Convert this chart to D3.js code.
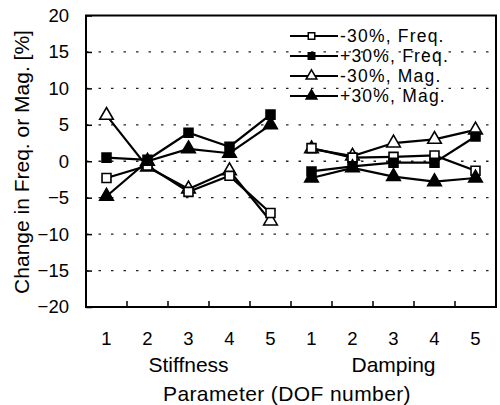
<!DOCTYPE html>
<html>
<head>
<meta charset="utf-8">
<script src="https://cdn.jsdelivr.net/npm/d3@7/dist/d3.min.js"></script>
<style>
  html, body { margin: 0; padding: 0; background: #fff; }
  svg { display: block; font-family: "Liberation Sans", Arial, sans-serif; }
</style>
</head>
<body>
<svg id="chart" width="500" height="405"></svg>
<script>
// Parameter groups and DOF numbers along the x axis
const groups = ["Stiffness", "Damping"];
const dofs = [1, 2, 3, 4, 5];

// Percentage change for each series, per parameter group (DOF 1..5)
const freqMinusStiff = [-2.3, -0.6, -4.2, -2.0, -7.1];
const freqMinusDamp  = [1.8, 0.5, 0.6, 0.8, -1.3];
const freqPlusStiff  = [0.5, 0.2, 3.9, 2.0, 6.4];
const freqPlusDamp   = [-1.4, -0.7, -0.2, -0.2, 3.4];
const magMinusStiff  = [6.3, -0.8, -3.8, -1.3, -8.2];
const magMinusDamp   = [1.7, 0.7, 2.5, 3.0, 4.3];
const magPlusStiff   = [-4.8, 0.0, 1.7, 1.1, 5.0];
const magPlusDamp    = [-2.3, -0.9, -2.1, -2.8, -2.3];

const seriesNames = ["-30%, Freq.", "+30%, Freq.", "-30%, Mag.", "+30%, Mag."];
const yTicks = [20, 15, 10, 5, 0, -5, -10, -15, -20];
const gridValues = [15, 10, 5, 0, -5, -10, -15];

const series = [
  { name: seriesNames[0], shape: d3.symbolSquare,   filled: false, parts: [freqMinusStiff, freqMinusDamp] },
  { name: seriesNames[1], shape: d3.symbolSquare,   filled: true,  parts: [freqPlusStiff, freqPlusDamp] },
  { name: seriesNames[2], shape: d3.symbolTriangle, filled: false, parts: [magMinusStiff, magMinusDamp] },
  { name: seriesNames[3], shape: d3.symbolTriangle, filled: true,  parts: [magPlusStiff, magPlusDamp] }
];

const svg = d3.select("#chart");
const margin = { left: 86, right: 4, top: 15.5, bottom: 98 };
const W = 500, H = 405;
const x0 = margin.left, x1 = W - margin.right;
const y0 = margin.top, y1 = H - margin.bottom;

const keys = [];
groups.forEach((g, gi) => dofs.forEach(d => keys.push(gi + "-" + d)));

const x = d3.scaleBand().domain(keys).range([x0, x1]).paddingInner(0).paddingOuter(0);
const y = d3.scaleLinear().domain([-20, 20]).range([y1, y0]);

// dotted horizontal grid
svg.append("g").selectAll("line").data(gridValues).join("line")
  .attr("x1", x0).attr("x2", x1)
  .attr("y1", d => y(d)).attr("y2", d => y(d))
  .attr("stroke", "#222").attr("stroke-width", 1.3)
  .attr("stroke-dasharray", "2.5,10");

// y axis with inward ticks
const yAxis = d3.axisLeft(y).tickValues(yTicks).tickSizeInner(-6).tickSizeOuter(0).tickPadding(17);
const gy = svg.append("g").attr("transform", `translate(${x0},0)`).call(yAxis);
gy.select(".domain").remove();
gy.selectAll(".tick line").attr("stroke", "#000").attr("stroke-width", 1.5);
gy.selectAll(".tick text").attr("font-size", 18.5).attr("fill", "#000")
  .attr("font-family", "'Liberation Sans', Arial, sans-serif");

// x axis labels at band centres
const xAxis = d3.axisBottom(x).tickSize(0).tickPadding(25).tickFormat(k => k.split("-")[1]);
const gx = svg.append("g").attr("transform", `translate(0,${y1})`).call(xAxis);
gx.select(".domain").remove();
gx.selectAll(".tick text").attr("font-size", 18.5).attr("fill", "#000")
  .attr("font-family", "'Liberation Sans', Arial, sans-serif");

// inward ticks at band boundaries
svg.append("g").selectAll("line").data(keys.slice(1)).join("line")
  .attr("x1", k => x(k)).attr("x2", k => x(k))
  .attr("y1", y1).attr("y2", y1 - 6)
  .attr("stroke", "#000").attr("stroke-width", 1.5);

// plot frame
svg.append("rect").attr("x", x0).attr("y", y0)
  .attr("width", x1 - x0).attr("height", y1 - y0)
  .attr("fill", "none").attr("stroke", "#000").attr("stroke-width", 2);

// group labels
groups.forEach((g, gi) => {
  const first = x(gi + "-" + dofs[0]);
  const last = x(gi + "-" + dofs[dofs.length - 1]) + x.bandwidth();
  svg.append("text").attr("x", (first + last) / 2).attr("y", 372)
    .attr("text-anchor", "middle").attr("font-size", 21).text(g);
});

// axis titles
svg.append("text").attr("x", 287).attr("y", 401)
  .attr("text-anchor", "middle").attr("font-size", 21)
  .attr("letter-spacing", 0.4)
  .text("Parameter (DOF number)");
svg.append("text").attr("transform", "translate(28.5,162) rotate(-90)")
  .attr("text-anchor", "middle").attr("font-size", 21)
  .text("Change in Freq. or Mag. [%]");

// series lines and markers (open series first so filled ones sit on top)
const line = d3.line().x(d => d[0]).y(d => d[1]);
const order = [2, 0, 3, 1];
const plot = svg.append("g");
order.forEach(si => {
  const s = series[si];
  s.parts.forEach((vals, gi) => {
    const pts = vals.map((v, i) => [x(gi + "-" + dofs[i]) + x.bandwidth() / 2, y(v)]);
    plot.append("path").attr("d", line(pts))
      .attr("fill", "none").attr("stroke", "#000").attr("stroke-width", 2.2);
  });
});
order.forEach(si => {
  const s = series[si];
  const sym = d3.symbol().type(s.shape).size(80);
  s.parts.forEach((vals, gi) => {
    plot.append("g").selectAll("path").data(vals).join("path")
      .attr("transform", (v, i) => `translate(${x(gi + "-" + dofs[i]) + x.bandwidth() / 2},${y(v)})`)
      .attr("d", sym())
      .attr("fill", s.filled ? "#000" : "#fff")
      .attr("stroke", "#000").attr("stroke-width", 1.6);
  });
});

// legend
const legendY = [36, 56, 76, 96];
const leg = svg.append("g");
series.forEach((s, i) => {
  const ly = legendY[i];
  leg.append("line").attr("x1", 290).attr("x2", 338).attr("y1", ly).attr("y2", ly)
    .attr("stroke", "#000").attr("stroke-width", 2);
  const sym = d3.symbol().type(s.shape).size(s.shape === d3.symbolSquare ? 42 : 50);
  leg.append("path").attr("transform", `translate(311.5,${ly})`).attr("d", sym())
    .attr("fill", s.filled ? "#000" : "#fff").attr("stroke", "#000").attr("stroke-width", 1.5);
  leg.append("text").attr("x", 340).attr("y", ly).attr("dy", "0.36em")
    .attr("font-size", 17.5).attr("letter-spacing", 1.2).text(s.name);
});
</script>
</body>
</html>
